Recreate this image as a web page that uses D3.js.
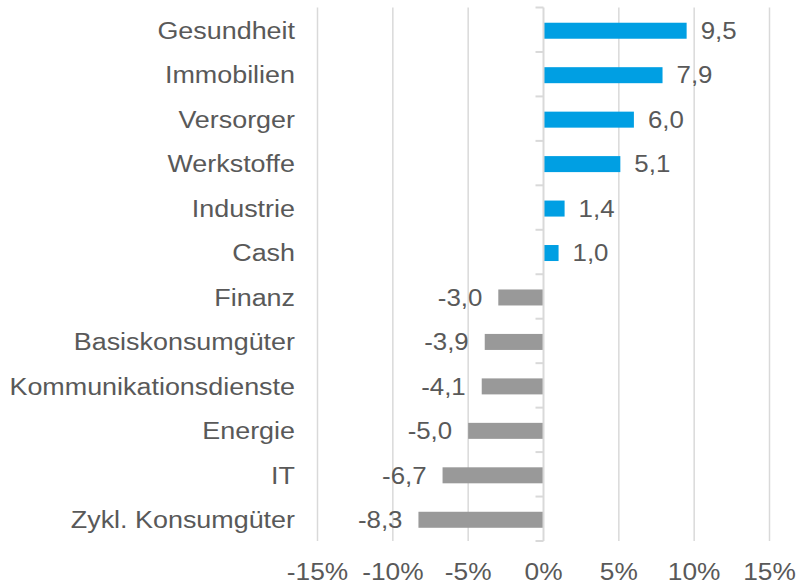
<!DOCTYPE html>
<html><head><meta charset="utf-8">
<script src="https://cdn.jsdelivr.net/npm/d3@7"></script>
<style>
html,body{margin:0;padding:0;background:#fff;}
svg text{font-family:"Liberation Sans",Arial,sans-serif;fill:#595959;}
</style></head>
<body><svg id="c" width="798" height="583"></svg>
<script>
const categories = ["Gesundheit","Immobilien","Versorger","Werkstoffe","Industrie","Cash","Finanz","Basiskonsumgüter","Kommunikationsdienste","Energie","IT","Zykl. Konsumgüter"];
const values = [9.5,7.9,6.0,5.1,1.4,1.0,-3.0,-3.9,-4.1,-5.0,-6.7,-8.3];
const xTicks = [-15,-10,-5,0,5,10,15];

const svg = d3.select("#c");
const x = d3.scaleLinear().domain([-15,15]).range([317.5,769.5]);
const y = d3.scaleBand().domain(categories).range([7.5,541]).paddingInner(0.64).paddingOuter(0.32);
const fs = 23.5;

// gridlines
svg.append("g").selectAll("line").data(xTicks.filter(d=>d!==0)).join("line")
  .attr("x1",d=>x(d)).attr("x2",d=>x(d)).attr("y1",7.5).attr("y2",541)
  .attr("stroke","#d9d9d9").attr("stroke-width",1.5);

// bars
svg.append("g").selectAll("rect").data(values).join("rect")
  .attr("x",d=>x(Math.min(0,d))).attr("width",d=>Math.abs(x(d)-x(0)))
  .attr("y",(d,i)=>y(categories[i])+1).attr("height",y.bandwidth())
  .attr("fill",d=>d>=0?"#009FE3":"#999999");

// zero axis with ticks
const ax = svg.append("g").attr("transform",`translate(${x(0)},0)`);
ax.append("line").attr("y1",7.5).attr("y2",541).attr("stroke","#d9d9d9").attr("stroke-width",2);
const bounds = d3.range(categories.length+1).map(i=>7.5+i*y.step());
ax.selectAll("line.t").data(bounds).join("line").attr("class","t")
  .attr("x1",-8).attr("x2",0).attr("y1",d=>d).attr("y2",d=>d)
  .attr("stroke","#d9d9d9").attr("stroke-width",2);

function place(sel, fx, fy, sx){
  sel.attr("transform",(d,i)=>`translate(${fx(d,i)},${fy(d,i)}) scale(${sx},1)`)
     .attr("dy","0.35em").attr("font-size",fs);
}

// category labels
svg.append("g").selectAll("text").data(categories).join("text")
  .call(place, ()=>295, d=>y(d)+1+y.bandwidth()/2, 1.145)
  .attr("text-anchor","end").text(d=>d);

// value labels
svg.append("g").selectAll("text").data(values).join("text")
  .call(place, d=>d>=0?x(d)+14:x(d)-16, (d,i)=>y(categories[i])+1+y.bandwidth()/2, 1.1)
  .attr("text-anchor",d=>d>=0?"start":"end")
  .text(d=>d3.format(".1f")(d).replace(".",",").replace("−","-"));

// x tick labels
svg.append("g").selectAll("text").data(xTicks).join("text")
  .call(place, d=>x(d), ()=>571.5, 1.12)
  .attr("text-anchor","middle").text(d=>d+"%");
</script></body></html>
